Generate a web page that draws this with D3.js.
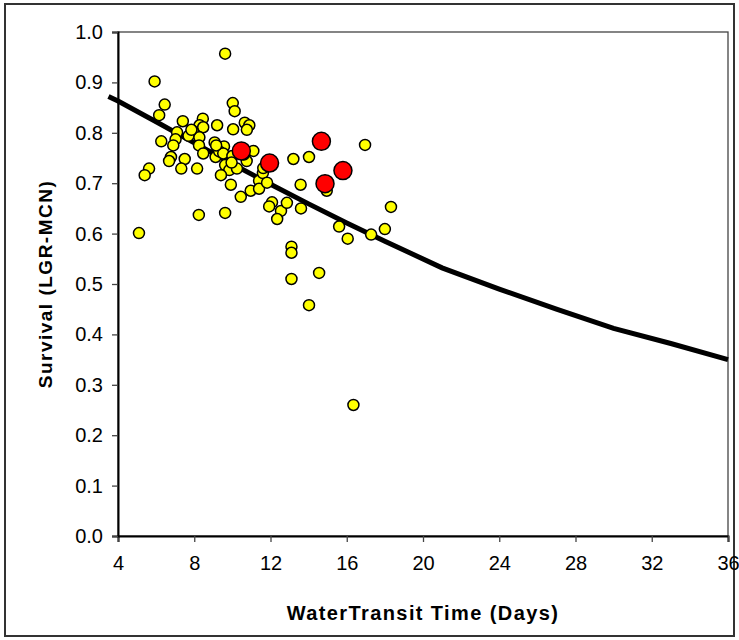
<!DOCTYPE html>
<html>
<head>
<meta charset="utf-8">
<script src="https://cdn.jsdelivr.net/npm/d3@7"></script>
<style>
  body { margin: 0; background: #fff; }
  svg text { font-family: "Liberation Sans", Arial, sans-serif; fill: #000; }
</style>
</head>
<body>
<div id="chart"></div>
<script>
// Survival vs water transit time

// yellow points (transit days, survival)
var yellowX = [9.62, 5.92, 6.45, 6.16, 10.02, 10.12, 7.40, 8.45, 9.20, 8.28,
    8.47, 10.04, 10.65, 10.89, 10.76, 7.10, 7.93, 7.70, 8.27, 7.02,
    6.27, 6.90, 8.25, 9.07, 9.20, 9.56, 9.38, 8.47, 9.12, 6.78,
    6.68, 7.50, 9.95, 9.62, 9.84, 10.24, 10.75, 11.10, 7.32, 8.15,
    5.63, 5.40, 9.40, 9.92, 10.44, 10.96, 11.40, 11.60, 11.40, 11.82,
    12.08, 11.93, 12.55, 12.35, 12.86, 13.20, 14.02, 13.58, 13.60, 8.24,
    9.62, 5.10, 13.10, 13.10, 13.10, 14.55, 14.02, 16.35, 15.60, 16.05,
    17.28, 18.00, 18.32, 16.96, 14.95, 7.85, 9.31, 9.52, 11.62, 10.00,
    9.15, 9.96, 10.60];
var yellowY = [0.957, 0.902, 0.856, 0.835, 0.859, 0.843, 0.823, 0.828, 0.815, 0.815,
    0.811, 0.807, 0.820, 0.815, 0.806, 0.801, 0.803, 0.794, 0.791, 0.787,
    0.783, 0.775, 0.775, 0.781, 0.771, 0.773, 0.760, 0.759, 0.752, 0.752,
    0.744, 0.748, 0.753, 0.736, 0.726, 0.729, 0.744, 0.764, 0.729, 0.729,
    0.729, 0.716, 0.716, 0.697, 0.673, 0.685, 0.705, 0.720, 0.689, 0.701,
    0.662, 0.654, 0.645, 0.629, 0.661, 0.748, 0.752, 0.697, 0.650, 0.637,
    0.641, 0.601, 0.574, 0.562, 0.510, 0.522, 0.458, 0.260, 0.614, 0.590,
    0.598, 0.609, 0.653, 0.776, 0.685, 0.806, 0.763, 0.759, 0.730, 0.754,
    0.775, 0.741, 0.757];

// red points
var redX = [10.47, 11.95, 14.67, 15.80, 14.86];
var redY = [0.764, 0.740, 0.783, 0.725, 0.699];

// fitted curve
var curveX = [3.5, 4, 6, 8, 10, 12, 14, 16, 18, 21, 24, 27, 30, 33, 36];
var curveY = [0.872, 0.863, 0.822, 0.780, 0.738, 0.698, 0.659, 0.621, 0.585, 0.532, 0.490, 0.450, 0.412, 0.382, 0.350];

var xTicks = [4, 8, 12, 16, 20, 24, 28, 32, 36];
var yTicks = [0, 0.1, 0.2, 0.3, 0.4, 0.5, 0.6, 0.7, 0.8, 0.9, 1.0];

var width = 739;
var height = 640;
var margin = { top: 32, right: 11, bottom: 104, left: 118 };
var plotW = width - margin.left - margin.right;
var plotH = height - margin.top - margin.bottom;

var svg = d3.select("#chart")
    .append("svg")
    .attr("width", width)
    .attr("height", height);

// outer frame
svg.append("rect")
    .attr("x", 5)
    .attr("y", 4)
    .attr("width", 729)
    .attr("height", 632)
    .attr("fill", "none")
    .attr("stroke", "#333")
    .attr("stroke-width", 2);

var g = svg.append("g")
    .attr("transform", "translate(" + margin.left + "," + margin.top + ")");

var x = d3.scaleLinear().domain([4, 36]).range([0, plotW]);
var y = d3.scaleLinear().domain([0, 1]).range([plotH, 0]);

// plot area border (top / right)
g.append("rect")
    .attr("width", plotW)
    .attr("height", plotH)
    .attr("fill", "none")
    .attr("stroke", "#444")
    .attr("stroke-width", 1.3);

var xAxis = g.append("g")
    .attr("transform", "translate(0," + plotH + ")")
    .call(d3.axisBottom(x).tickValues(xTicks).tickSize(6).tickPadding(14).tickFormat(d3.format("d")));

var yAxis = g.append("g")
    .call(d3.axisLeft(y).tickValues(yTicks).tickSize(6).tickPadding(9).tickFormat(d3.format(".1f")));

[xAxis, yAxis].forEach(function(a) {
    a.select(".domain").attr("stroke", "#000").attr("stroke-width", 2);
    a.selectAll(".tick line").attr("stroke", "#444").attr("stroke-width", 1.3);
    a.selectAll("text").style("font-size", "20px");
});

// curve
var curveData = curveX.map(function(d, i) { return [d, curveY[i]]; });
var line = d3.line()
    .x(function(d) { return x(d[0]); })
    .y(function(d) { return y(d[1]); });

g.append("path")
    .datum(curveData)
    .attr("d", line)
    .attr("fill", "none")
    .attr("stroke", "#000")
    .attr("stroke-width", 5);

// yellow points
var yellowData = yellowX.map(function(d, i) { return [d, yellowY[i]]; });
g.selectAll(".yel")
    .data(yellowData)
    .enter()
    .append("circle")
    .attr("class", "yel")
    .attr("cx", function(d) { return x(d[0]); })
    .attr("cy", function(d) { return y(d[1]); })
    .attr("r", 5.5)
    .attr("fill", "#ffff00")
    .attr("stroke", "#000")
    .attr("stroke-width", 1.5);

// red points
var redData = redX.map(function(d, i) { return [d, redY[i]]; });
g.selectAll(".red")
    .data(redData)
    .enter()
    .append("circle")
    .attr("class", "red")
    .attr("cx", function(d) { return x(d[0]); })
    .attr("cy", function(d) { return y(d[1]); })
    .attr("r", 9)
    .attr("fill", "#ff0000")
    .attr("stroke", "#000")
    .attr("stroke-width", 1.5);

// axis titles
svg.append("text")
    .attr("x", margin.left + plotW / 2)
    .attr("y", 620)
    .attr("text-anchor", "middle")
    .style("font-size", "20px")
    .style("font-weight", "bold")
    .style("letter-spacing", "1.4px")
    .text("WaterTransit Time (Days)");

svg.append("text")
    .attr("transform", "translate(52," + (margin.top + plotH / 2) + ")rotate(-90)")
    .attr("text-anchor", "middle")
    .style("font-size", "19px")
    .style("font-weight", "bold")
    .style("letter-spacing", "1.5px")
    .text("Survival (LGR-MCN)");
</script>
</body>
</html>
